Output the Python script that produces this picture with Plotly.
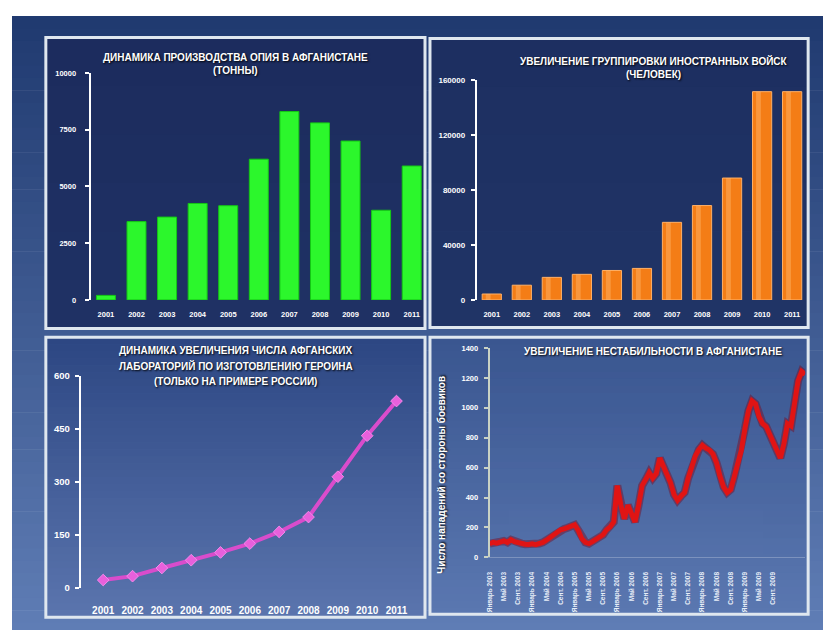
import plotly.graph_objects as go

# ---------------- data ----------------
years = ["2001", "2002", "2003", "2004", "2005", "2006", "2007", "2008", "2009", "2010", "2011"]

opium_tons = [200, 3450, 3650, 4250, 4150, 6200, 8300, 7800, 7000, 3950, 5900]

troops = [4300, 10700, 16400, 18600, 21400, 22900, 56400, 68600, 88600, 151400, 151400]

labs = [22, 33, 56, 78, 100, 125, 158, 200, 314, 430, 528]

attacks = [92, 100, 95, 105, 110, 100, 118, 105, 98, 92,
           88, 86, 90, 85, 92, 100, 115, 135, 150, 170,
           184, 190, 198, 204, 217, 180, 125, 100, 92, 105,
           118, 140, 151, 185, 204, 237, 480, 350, 257, 349,
           300, 237, 349, 480, 520, 566, 530, 560, 664, 612,
           560, 500, 420, 382, 410, 434, 530, 600, 678, 720,
           750, 730, 717, 690, 632, 540, 470, 434, 454, 540,
           640, 717, 860, 980, 1046, 1026, 940, 895, 875, 820,
           780, 717, 664, 760, 895, 880, 1060, 1180, 1243, 1224]

month_names = ["Январь", "Февраль", "Март", "Апрель", "Май", "Июнь",
               "Июль", "Август", "Сент.", "Октябрь", "Ноябрь", "Декабрь"]
attack_years = [2003, 2004, 2005, 2006, 2007, 2008, 2009, 2010]
months = [f"{m} {y}" for y in attack_years for m in month_names][:len(attacks)]
month_ticks = [months[i] for i in range(0, 81, 4)]

opium_ticks = [0, 2500, 5000, 7500, 10000]
troop_ticks = [0, 40000, 80000, 120000, 160000]
lab_ticks = [0, 150, 300, 450, 600]
attack_ticks = [0, 200, 400, 600, 800, 1000, 1200, 1400]

title1 = ["ДИНАМИКА ПРОИЗВОДСТВА ОПИЯ В АФГАНИСТАНЕ", "(ТОННЫ)"]
title2 = ["УВЕЛИЧЕНИЕ ГРУППИРОВКИ ИНОСТРАННЫХ ВОЙСК", "(ЧЕЛОВЕК)"]
title3 = ["ДИНАМИКА УВЕЛИЧЕНИЯ ЧИСЛА АФГАНСКИХ",
          "ЛАБОРАТОРИЙ ПО ИЗГОТОВЛЕНИЮ ГЕРОИНА",
          "(ТОЛЬКО НА ПРИМЕРЕ РОССИИ)"]
title4 = ["УВЕЛИЧЕНИЕ НЕСТАБИЛЬНОСТИ В АФГАНИСТАНЕ"]
ytitle4 = "Число нападений со стороны боевиков"

# ---------------- helpers ----------------
W, H = 831, 630
OFF = 8  # page body margin: screen coords = figure coords + 8
FONT = "Liberation Sans, Arial, sans-serif"


def px(x):
    return (x - OFF) / W


def py(y):
    return 1 - (y - OFF) / H


def hex2rgb(h):
    h = h.lstrip("#")
    return tuple(int(h[i:i + 2], 16) for i in (0, 2, 4))


def gradient(x0, x1, y0, y1, c0, c1, n=40):
    a, b = hex2rgb(c0), hex2rgb(c1)
    out = []
    for i in range(n):
        t = i / (n - 1)
        col = "rgb(%d,%d,%d)" % tuple(round(a[k] + (b[k] - a[k]) * t) for k in range(3))
        ya = y0 + (y1 - y0) * i / n
        yb = y0 + (y1 - y0) * (i + 1) / n + 0.6
        out.append(dict(type="rect", xref="paper", yref="paper",
                        x0=px(x0), x1=px(x1), y0=py(yb), y1=py(ya),
                        fillcolor=col, line=dict(width=0), layer="below"))
    return out


shapes = []
shapes += gradient(8, 840, 10, 640, "#203a70", "#5f7db5", 50)
shapes += gradient(42, 423, 32, 328, "#1c2c5e", "#1f3164", 6)
shapes += gradient(428, 808, 33, 327, "#1d2f61", "#203466", 6)
shapes += gradient(42, 423, 337, 622, "#2d4783", "#5a74ad", 40)
shapes += gradient(428, 808, 337, 619, "#3a5690", "#5a77b0", 40)
for (x0, x1, y0, y1) in [(42, 423, 32, 328), (428, 808, 33, 327),
                         (42, 423, 337, 622), (428, 808, 337, 619)]:
    shapes.append(dict(type="rect", xref="paper", yref="paper",
                       x0=px(x0), x1=px(x1), y0=py(y1), y1=py(y0),
                       fillcolor="rgba(0,0,0,0)",
                       line=dict(color="#dfe7ef", width=3), layer="below"))

fig = go.Figure()

# Panel 1: opium
fig.add_trace(go.Bar(x=years, y=opium_tons, xaxis="x", yaxis="y", width=0.62,
                     marker=dict(color="#2cf72c", line=dict(color="#14c814", width=1)),
                     showlegend=False))
# Panel 2: troops (cylinder look)
fig.add_trace(go.Bar(x=years, y=troops, xaxis="x2", yaxis="y2", width=0.64,
                     marker=dict(color="#f47d16", line=dict(color="#ffb066", width=1)),
                     showlegend=False))
fig.add_trace(go.Bar(x=years, y=troops, xaxis="x2", yaxis="y2", width=0.16, offset=-0.2,
                     marker=dict(color="rgba(255,185,110,0.45)", line=dict(width=0)),
                     showlegend=False, hoverinfo="skip"))
# Panel 3: labs
fig.add_trace(go.Scatter(x=years, y=labs, xaxis="x3", yaxis="y3", mode="lines+markers",
                         line=dict(color="#d94ccc", width=4),
                         marker=dict(symbol="diamond", size=9, color="#e860dc",
                                     line=dict(color="#f38aea", width=1)),
                         showlegend=False))
# Panel 4: attacks
fig.add_trace(go.Scatter(x=months, y=attacks, xaxis="x4", yaxis="y4", mode="lines",
                         line=dict(color="#7a0a20", width=8), opacity=0.45,
                         showlegend=False, hoverinfo="skip"))
fig.add_trace(go.Scatter(x=months, y=attacks, xaxis="x4", yaxis="y4", mode="lines",
                         line=dict(color="#e01414", width=5),
                         showlegend=False))

tick_small = dict(family=FONT, size=7.5, color="#ffffff", weight="bold")


def yax(anchor, domain, rng, tickvals, size, standoff, linecolor="#ffffff"):
    return dict(anchor=anchor, domain=domain, range=rng, tickvals=tickvals,
                tickformat="d", showgrid=False, zeroline=False,
                showline=True, linecolor=linecolor, linewidth=2, ticks="outside", ticklen=4,
                tickcolor=linecolor, tickwidth=1.5,
                tickfont=dict(family=FONT, size=size, color="#ffffff", weight="bold"),
                ticklabelstandoff=standoff, fixedrange=True)


fig.update_layout(
    width=W, height=H, margin=dict(l=0, r=0, t=0, b=0),
    paper_bgcolor="#ffffff", plot_bgcolor="rgba(0,0,0,0)",
    barmode="overlay", shapes=shapes, showlegend=False,
    xaxis=dict(domain=[px(87), px(425)], anchor="y", type="category", showgrid=False,
               showline=False, ticks="", tickfont=tick_small, ticklabelstandoff=9),
    yaxis=yax("x", [py(299), py(68)], [0, 10000], opium_ticks, 7.5, 7),
    xaxis2=dict(domain=[px(475), px(807)], anchor="y2", type="category", showgrid=False,
                showline=False, ticks="", tickfont=tick_small, ticklabelstandoff=9),
    yaxis2=yax("x2", [py(299), py(75)], [0, 160000], troop_ticks, 8, 4),
    xaxis3=dict(domain=[px(77), px(417)], anchor="y3", type="category", showgrid=False,
                showline=False, ticks="",
                tickfont=dict(family=FONT, size=10, color="#ffffff", weight="bold"),
                ticklabelstandoff=15),
    yaxis3=yax("x3", [py(592), py(376)], [0, 600], lab_ticks, 9.5, 3),
    xaxis4=dict(domain=[px(488), px(805)], anchor="y4", type="category", showgrid=False,
                showline=True, linecolor="rgba(200,210,230,0.35)", linewidth=1,
                ticks="", tickvals=month_ticks, ticktext=month_ticks, tickangle=-90,
                tickfont=dict(family=FONT, size=6.5, color="#e8eef8", weight="bold"),
                ticklabelstandoff=11),
    yaxis4=yax("x4", [py(561), py(348)], [0, 1400], attack_ticks, 7.5, 4, linecolor="#c9d2c4"),
)

ann_font = dict(family=FONT, size=10, color="#ffffff", weight="bold",
                shadow="1px 1px 2px #000000")
title_lines = [(title1, 233, [52, 66]), (title2, 653, [56, 70]),
               (title3, 233, [350, 366, 382]), (title4, 652, [352])]
for lines, x, ys in title_lines:
    for txt, y in zip(lines, ys):
        fig.add_annotation(text=txt, x=px(x), y=py(y), xref="paper", yref="paper",
                           xanchor="center", yanchor="middle",
                           showarrow=False, font=ann_font, align="center")
fig.add_annotation(text=ytitle4, x=px(440), y=py(477), xref="paper", yref="paper",
                   xanchor="center", yanchor="middle",
                   showarrow=False, textangle=-90,
                   font=dict(family=FONT, size=10, color="#ffffff", weight="bold",
                             shadow="1px 1px 2px #000000"))

fig.write_html("out.html")
